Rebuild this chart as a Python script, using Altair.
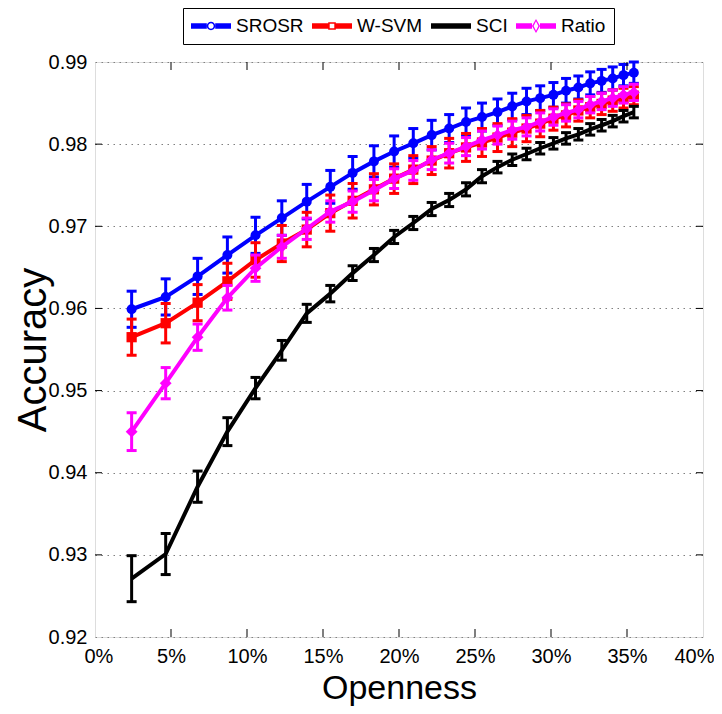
import altair as alt
import pandas as pd

# ---------------- data ----------------
openness = [2.41, 4.65, 6.75, 8.71, 10.56, 12.29, 13.93, 15.48, 16.95, 18.35,
            19.68, 20.94, 22.15, 23.30, 24.41, 25.46, 26.48, 27.45, 28.39, 29.29,
            30.16, 30.99, 31.80, 32.58, 33.33, 34.06, 34.77, 35.45]

srosr = [0.9599, 0.9614, 0.9639, 0.9665, 0.9689, 0.9710, 0.9730, 0.9748, 0.9765, 0.9779,
         0.9791, 0.9801, 0.9811, 0.9819, 0.9827, 0.9833, 0.9839, 0.9846, 0.9852, 0.9856,
         0.9860, 0.9865, 0.9869, 0.9874, 0.9877, 0.9880, 0.9884, 0.9887]
srosr_err = [0.0022, 0.0022, 0.0022, 0.0022, 0.0022, 0.0021, 0.0021, 0.0020, 0.0020, 0.0019,
             0.0019, 0.0018, 0.0018, 0.0017, 0.0017, 0.0017, 0.0016, 0.0016, 0.0016, 0.0015,
             0.0015, 0.0015, 0.0014, 0.0014, 0.0014, 0.0014, 0.0013, 0.0013]

wsvm = [0.9565, 0.9582, 0.9607, 0.9633, 0.9659, 0.9679, 0.9696, 0.9716, 0.9731, 0.9745,
        0.9758, 0.9769, 0.9780, 0.9789, 0.9796, 0.9802, 0.9808, 0.9814, 0.9819, 0.9825,
        0.9831, 0.9835, 0.9841, 0.9845, 0.9849, 0.9853, 0.9856, 0.9859]
wsvm_err = [0.0022, 0.0024, 0.0022, 0.0022, 0.0021, 0.0022, 0.0021, 0.0022, 0.0021, 0.0019,
            0.0018, 0.0017, 0.0017, 0.0018, 0.0017, 0.0017, 0.0017, 0.0017, 0.0016, 0.0016,
            0.0014, 0.0014, 0.0013, 0.0013, 0.0013, 0.0013, 0.0012, 0.0011]

sci = [0.9271, 0.9301, 0.9383, 0.9450, 0.9503, 0.9549, 0.9594, 0.9618, 0.9643, 0.9665,
       0.9687, 0.9704, 0.9721, 0.9732, 0.9745, 0.9761, 0.9772, 0.9781, 0.9788, 0.9795,
       0.9801, 0.9807, 0.9812, 0.9818, 0.9823, 0.9828, 0.9834, 0.9839]
sci_err = [0.0028, 0.0025, 0.0019, 0.0017, 0.0013, 0.0012, 0.0011, 0.0010, 0.0009, 0.0008,
           0.0008, 0.0008, 0.0008, 0.0008, 0.0008, 0.0008, 0.0007, 0.0007, 0.0007, 0.0007,
           0.0007, 0.0007, 0.0007, 0.0007, 0.0007, 0.0007, 0.0007, 0.0007]

ratio = [0.9450, 0.9509, 0.9565, 0.9613, 0.9649, 0.9675, 0.9697, 0.9718, 0.9730, 0.9744,
         0.9758, 0.9768, 0.9781, 0.9789, 0.9797, 0.9805, 0.9811, 0.9817, 0.9821, 0.9827,
         0.9833, 0.9838, 0.9842, 0.9848, 0.9852, 0.9856, 0.9860, 0.9863]
ratio_err = [0.0023, 0.0019, 0.0016, 0.0015, 0.0016, 0.0014, 0.0013, 0.0013, 0.0013, 0.0013,
             0.0012, 0.0012, 0.0012, 0.0012, 0.0011, 0.0011, 0.0011, 0.0011, 0.0011, 0.0011,
             0.0010, 0.0010, 0.0010, 0.0010, 0.0010, 0.0010, 0.0010, 0.0010]

series_names = ["SROSR", "W-SVM", "SCI", "Ratio"]
series_values = [srosr, wsvm, sci, ratio]
series_errors = [srosr_err, wsvm_err, sci_err, ratio_err]
colors = ["#0000ff", "#ff0000", "#000000", "#ff00ff"]
markers = ["circle", "square", None, "diamond"]
marker_sizes = [100, 105, 0, 140]

x_ticks = [0, 5, 10, 15, 20, 25, 30, 35, 40]
y_ticks = [0.92, 0.93, 0.94, 0.95, 0.96, 0.97, 0.98, 0.99]

# legend symbols: line segment (x from -1 to 3) + open marker centred at x = 1
legend_paths = [
    "M-1,-0.27H0.58V0.27H-1Z M1.42,-0.27H3V0.27H1.42Z "
    "M0.58,0A0.42,0.42,0,1,1,1.42,0A0.42,0.42,0,1,1,0.58,0Z "
    "M0.73,0A0.27,0.27,0,1,0,1.27,0A0.27,0.27,0,1,0,0.73,0Z",
    "M-1,-0.27H0.62V0.27H-1Z M1.38,-0.27H3V0.27H1.38Z "
    "M0.62,-0.38H1.38V0.38H0.62Z M0.77,-0.23V0.23H1.23V-0.23Z",
    "M-1,-0.27H3V0.27H-1Z",
    "M-1,-0.27H0.6V0.27H-1Z M1.4,-0.27H3V0.27H1.4Z "
    "M1,-0.7L1.4,0L1,0.7L0.6,0Z M1,-0.48L0.76,0L1,0.48L1.24,0Z",
]

# ---------------- build table ----------------
frames = []
for name, vals, errs in zip(series_names, series_values, series_errors):
    frames.append(pd.DataFrame({
        "series": name,
        "openness": openness,
        "acc": vals,
        "lo": [v - e for v, e in zip(vals, errs)],
        "hi": [v + e for v, e in zip(vals, errs)],
    }))
df = pd.concat(frames, ignore_index=True)

W, H = 608, 575
FONT = "Liberation Sans, Arial, Helvetica, sans-serif"

x_scale = alt.Scale(domain=[0, 40], nice=False, zero=False)
y_scale = alt.Scale(domain=[0.92, 0.99], nice=False, zero=False)

x_axis = alt.Axis(values=x_ticks, labelExpr="datum.value + '%'", title="Openness",
                  grid=False, ticks=False, domain=False, labelFlush=True, labelFlushOffset=11,
                  labelOverlap=False,
                  labelFont=FONT, labelFontSize=20, labelPadding=9, labelColor="black",
                  titleFont=FONT, titleFontSize=34, titleFontWeight="normal", titleColor="black",
                  titleBaseline="alphabetic", titleY=61, titleX=W / 2)
y_axis = alt.Axis(values=y_ticks, format=".2f", title="Accuracy",
                  grid=True, gridDash=[1.5, 4.5], gridColor="#808080", gridWidth=1,
                  ticks=False, domain=False, labelOverlap=False, labelFlush=False,
                  labelFont=FONT, labelFontSize=20, labelPadding=8, labelColor="black",
                  titleFont=FONT, titleFontSize=40, titleFontWeight="normal", titleColor="black",
                  titleAngle=270, titleBaseline="alphabetic", titleX=-50, titleY=H / 2)


def xe(field="openness"):
    return alt.X(f"{field}:Q", scale=x_scale, axis=x_axis)


def ye(field):
    return alt.Y(f"{field}:Q", scale=y_scale, axis=y_axis)


layers = []
for name, color, marker, msize in zip(series_names, colors, markers, marker_sizes):
    base = alt.Chart(df).transform_filter(alt.datum.series == name)
    layers.append(base.mark_line(color=color, strokeWidth=4).encode(
        x=xe(), y=ye("acc"), order="openness:Q"))
    layers.append(base.mark_rule(color=color, strokeWidth=3).encode(
        x=xe(), y=ye("lo"), y2="hi:Q"))
    for f in ["lo", "hi"]:
        layers.append(base.mark_tick(color=color, orient="horizontal", size=10,
                                     thickness=3, opacity=1).encode(x=xe(), y=ye(f)))
    if marker:
        layers.append(base.mark_point(shape=marker, filled=True, size=msize, color=color,
                                      opacity=1).encode(x=xe(), y=ye("acc")))

# inward tick marks (MATLAB box style)
xt = pd.DataFrame({"openness": x_ticks[1:-1]})
yt = pd.DataFrame({"acc": y_ticks[1:-1]})
layers.append(alt.Chart(xt).mark_tick(orient="vertical", size=8, thickness=1, color="black",
                                      opacity=1).encode(x=xe(), y=alt.value(H - 4)))
layers.append(alt.Chart(xt).mark_tick(orient="vertical", size=8, thickness=1, color="black",
                                      opacity=1).encode(x=xe(), y=alt.value(4)))
layers.append(alt.Chart(yt).mark_tick(orient="horizontal", size=7, thickness=1, color="black",
                                      opacity=1).encode(y=ye("acc"), x=alt.value(3.5)))
layers.append(alt.Chart(yt).mark_tick(orient="horizontal", size=7, thickness=1, color="black",
                                      opacity=1).encode(y=ye("acc"), x=alt.value(W - 3.5)))

# legend-only layer (no visible data)
leg = alt.Legend(title=None, orient="none", legendX=88, legendY=-54, direction="horizontal",
                 strokeColor="black", fillColor="white", padding=8, cornerRadius=0,
                 labelFont=FONT, labelFontSize=19, labelColor="black", labelOffset=25,
                 columnPadding=8, symbolSize=400, symbolStrokeWidth=0, symbolOpacity=1)
layers.append(alt.Chart(df).transform_filter("false").mark_point(filled=True, opacity=1).encode(
    color=alt.Color("series:N", scale=alt.Scale(domain=series_names, range=colors), legend=leg),
    shape=alt.Shape("series:N", scale=alt.Scale(domain=series_names, range=legend_paths), legend=leg),
))

chart = alt.layer(*layers).properties(
    width=W, height=H,
    padding={"left": 87, "top": 54, "right": 11, "bottom": 69},
    autosize=alt.AutoSizeParams(type="none"),
).configure_view(stroke="black", strokeWidth=1.3).configure(background="white")

chart.save("out.html", embed_options={"renderer": "svg", "actions": False})
